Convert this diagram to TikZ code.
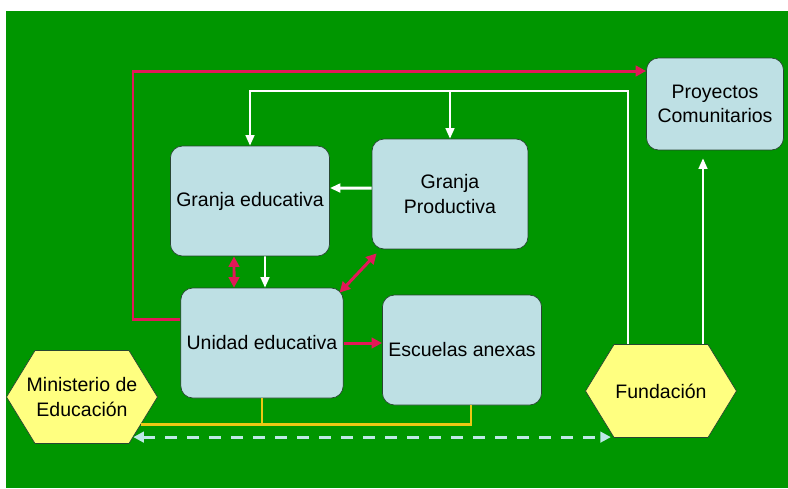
\documentclass[tikz,border=0pt]{standalone}
\usepackage{fontspec}
\setmainfont{Liberation Sans}
\usetikzlibrary{positioning,shapes,arrows.meta}
\definecolor{fondo}{RGB}{0,150,0}
\definecolor{celda}{RGB}{190,224,228}
\definecolor{hexa}{RGB}{255,255,128}
\definecolor{rojo}{RGB}{226,24,88}
\definecolor{oro}{RGB}{236,200,20}
\definecolor{celeste}{RGB}{190,232,230}
\definecolor{borde}{RGB}{40,70,50}

\begin{document}
\begin{tikzpicture}[x=0.02cm, y=-0.02cm, font=\fontsize{11.1}{13.7}\selectfont]
	\tikzstyle{bloque}=[rectangle, draw=borde, rounded corners=0.24cm, fill=celda,
	text centered, text=black, minimum width=3.12cm, minimum height=2.2cm, align=center]
	\tikzstyle{hexagono}=[signal, signal to=east and west, signal pointer angle=117, draw=borde,
	fill=hexa, minimum width=3.02cm, minimum height=1.86cm, inner sep=0pt]
	\tikzstyle{rline}=[draw=rojo, line width=1.7pt]
	\tikzstyle{rarrow}=[rline, -{Triangle[length=6pt,width=6pt]}]
	\tikzstyle{rboth}=[rline, {Triangle[length=6pt,width=6pt]}-{Triangle[length=6pt,width=6pt]}]
	\tikzstyle{wline}=[draw=white, line width=1.1pt]
	\tikzstyle{warrow}=[wline, -{Triangle[length=6pt,width=5pt]}]
	\tikzstyle{yline}=[draw=oro, line width=1.2pt]
	\tikzstyle{dline}=[draw=celeste, line width=1.7pt, dash pattern=on 0.24cm off 0.2cm,
	{Triangle[length=6pt,width=6pt]}-{Triangle[length=6pt,width=6pt]}]

	\fill[white] (0,0) rectangle (788,488);
	\fill[fondo] (6,11) rectangle (788,488);
	\useasboundingbox (0,0) rectangle (788,488);

	\node (Granja) [bloque] at (250,201) {Granja educativa};
	\node (Productiva) [bloque] at (450,194) {Granja\\Productiva};
	\node (Unidad) [bloque] at (262,343) {Unidad educativa};
	\node (Escuelas) [bloque] at (462,350) {Escuelas anexas};
	\node (Proyectos) [bloque, minimum width=2.74cm, minimum height=1.84cm] at (715,104) {Proyectos\\Comunitarios};
	\node (Ministerio) [hexagono, label={[align=center]center:Ministerio de\\Educación}] at (82,397) {};
	\node (Fundacion) [hexagono, label={center:Fundación}] at (661,391) {};

	\coordinate (Esquina) at (133,71);
	\coordinate (Reparto) at (0,91);
	\coordinate (Subida) at ([xshift=-0.66cm]Fundacion.north);
	\coordinate (Salida) at ([xshift=0.84cm]Fundacion.north);
	\coordinate (Bajada) at ([xshift=0.18cm]Escuelas.south);

	\draw[rarrow] ([yshift=0.48cm]Unidad.west) -| (Esquina) -- (Esquina -| Proyectos.west);
	\draw[warrow] (Subida) |- (Granja.north |- Reparto) -- (Granja.north);
	\draw[warrow] (Productiva.north |- Reparto) -- (Productiva.north);
	\draw[warrow, shorten >=0.16cm] (Salida) -- (Salida |- Proyectos.south);
	\draw[warrow, line width=1.7pt] ([yshift=0.12cm]Productiva.west) -- ([yshift=0.26cm]Granja.east);
	\draw[warrow] ([xshift=0.3cm]Granja.south) -- ([xshift=0.06cm]Unidad.north);
	\draw[rboth] ([xshift=-0.32cm]Granja.south) -- ([xshift=-0.56cm]Unidad.north);
	\draw[rboth] ([shift={(-0.08cm,-0.1cm)}]Unidad.north east) -- ([shift={(0.1cm,-0.08cm)}]Productiva.south west);
	\draw[rarrow] (Unidad.east) -- (Unidad.east -| Escuelas.west);
	\draw[yline] (Unidad.south) -- (Unidad.south |- Ministerio.-25);
	\draw[yline] (Bajada) |- (Ministerio.-25);
	\draw[dline] (Ministerio.-38) -- (Ministerio.-38 -| Fundacion.-140);
\end{tikzpicture}
\end{document}
